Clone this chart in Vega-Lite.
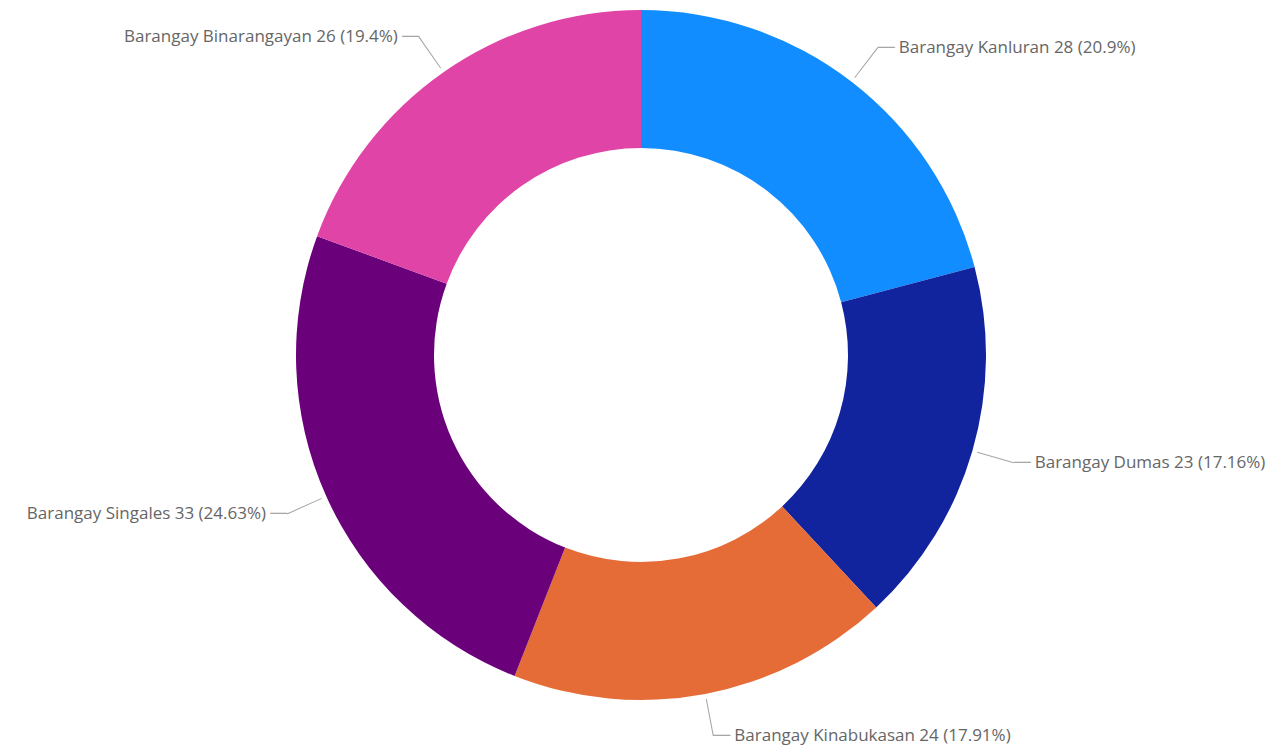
{
  "$schema": "https://vega.github.io/schema/vega-lite/v6.json",
  "width": 1270,
  "height": 710,
  "autosize": {"type": "none"},
  "padding": {"left": 6, "top": 0, "right": 0, "bottom": 43},
  "background": "white",
  "config": {"view": {"stroke": null}},
  "data": {
    "values": [
      {"idx": 1, "name": "Barangay Kanluran", "count": 28, "side": "right"},
      {"idx": 2, "name": "Barangay Dumas", "count": 23, "side": "right"},
      {"idx": 3, "name": "Barangay Kinabukasan", "count": 24, "side": "right"},
      {"idx": 4, "name": "Barangay Singales", "count": 33, "side": "left"},
      {"idx": 5, "name": "Barangay Binarangayan", "count": 26, "side": "left"}
    ]
  },
  "layer": [
    {
      "mark": {"type": "arc", "innerRadius": 207, "outerRadius": 345},
      "encoding": {
        "theta": {"field": "count", "type": "quantitative", "stack": true},
        "order": {"field": "idx", "type": "quantitative"},
        "color": {
          "field": "name",
          "type": "nominal",
          "scale": {
            "domain": ["Barangay Kanluran", "Barangay Dumas", "Barangay Kinabukasan", "Barangay Singales", "Barangay Binarangayan"],
            "range": ["#118DFF", "#12239E", "#E66C37", "#6B007B", "#E044A7"]
          },
          "legend": null
        }
      }
    },
    {
      "transform": [
        {"stack": "count", "groupby": [], "sort": [{"field": "idx", "order": "ascending"}], "as": ["s0", "s1"]},
        {"joinaggregate": [{"op": "sum", "field": "count", "as": "total"}]},
        {"calculate": "(datum.s0 + datum.s1) / 2", "as": "mid"},
        {"calculate": "datum.mid - 0.03", "as": "m1"},
        {"calculate": "datum.mid + 0.03", "as": "m2"},
        {"calculate": "datum.name + ' ' + datum.count + ' (' + format(datum.count / datum.total, '.4~p') + ')'", "as": "label"}
      ],
      "layer": [
        {
          "mark": {"type": "arc", "innerRadius": 350, "outerRadius": 388, "color": "#a6a6a6"},
          "encoding": {
            "theta": {"field": "m1", "type": "quantitative"},
            "theta2": {"field": "m2"}
          }
        },
        {
          "transform": [{"filter": "datum.side === 'right'"}],
          "mark": {"type": "text", "radius": 388, "align": "left", "baseline": "middle", "font": "DejaVu Sans", "fontSize": 14, "color": "#a6a6a6", "text": "──"},
          "encoding": {"theta": {"field": "mid", "type": "quantitative"}}
        },
        {
          "transform": [{"filter": "datum.side === 'left'"}],
          "mark": {"type": "text", "radius": 388, "align": "right", "baseline": "middle", "font": "DejaVu Sans", "fontSize": 14, "color": "#a6a6a6", "text": "──"},
          "encoding": {"theta": {"field": "mid", "type": "quantitative"}}
        },
        {
          "transform": [{"filter": "datum.side === 'right'"}],
          "mark": {"type": "text", "radius": 388, "dx": 21, "align": "left", "baseline": "middle", "font": "Open Sans", "fontSize": 17, "color": "#666666"},
          "encoding": {
            "theta": {"field": "mid", "type": "quantitative"},
            "text": {"field": "label", "type": "nominal"}
          }
        },
        {
          "transform": [{"filter": "datum.side === 'left'"}],
          "mark": {"type": "text", "radius": 388, "dx": -21, "align": "right", "baseline": "middle", "font": "Open Sans", "fontSize": 17, "color": "#666666"},
          "encoding": {
            "theta": {"field": "mid", "type": "quantitative"},
            "text": {"field": "label", "type": "nominal"}
          }
        }
      ]
    }
  ]
}
